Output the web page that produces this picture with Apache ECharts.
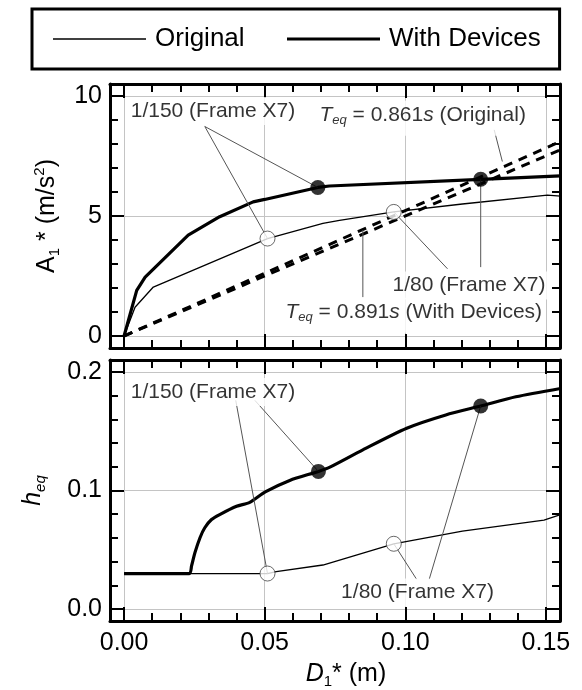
<!DOCTYPE html>
<html><head><meta charset="utf-8">
<script src="https://cdn.jsdelivr.net/npm/echarts@6/dist/echarts.min.js"></script>
<style>html,body{margin:0;padding:0;background:#fff}#c{width:582px;height:690px}</style>
</head><body><div id="c"></div>
<script>
// ---------------- data ----------------
const xMajorTicks = [0, 0.05, 0.10, 0.15];
const xMinorTicks = [0,0.01,0.02,0.03,0.04,0.05,0.06,0.07,0.08,0.09,0.10,0.11,0.12,0.13,0.14,0.15];
const aMajorTicks = [0, 5, 10];
const aMinorTicks = [0,1,2,3,4,5,6,7,8,9,10];
const hMajorTicks = [0, 0.1, 0.2];
const hMinorTicks = [0,0.02,0.04,0.06,0.08,0.10,0.12,0.14,0.16,0.18,0.20];

// A1* vs D1* (top)
const accelOriginal = [[0,0],[0.0039,1.2],[0.0104,2.04],[0.051,4.06],[0.0707,4.69],[0.0766,4.82],[0.0959,5.17],[0.1203,5.50],[0.1505,5.87],[0.1552,5.83]];
const accelDevices = [[0,0],[0.0045,1.9],[0.0075,2.45],[0.0228,4.2],[0.034,4.97],[0.0459,5.59],[0.050,5.69],[0.0689,6.19],[0.073,6.25],[0.1268,6.53],[0.1552,6.67]];
const teqOriginal = [[0,0],[0.155,8.1]];
const teqDevices = [[0,0],[0.155,7.75]];
const accelFilled = [[0.0689,6.19],[0.1268,6.53]];
const accelOpen = [[0.051,4.06],[0.0959,5.17]];

// h_eq vs D1* (bottom)
const hOriginal = [[0,0.030],[0.051,0.030],[0.0541,0.0316],[0.0707,0.0372],[0.0959,0.0551],[0.1203,0.0657],[0.1493,0.075],[0.1552,0.0797]];
const hDevices = [[0,0.030],[0.0232,0.030],[0.0240,0.0364],[0.0252,0.0476],[0.0270,0.0602],[0.0287,0.0686],[0.0311,0.0755],[0.034,0.0797],[0.040,0.0867],[0.0447,0.090],[0.0502,0.0988],[0.0589,0.1085],[0.0691,0.1161],[0.073,0.1195],[0.0849,0.1343],[0.1005,0.1525],[0.1144,0.1637],[0.1268,0.1712],[0.1393,0.179],[0.1552,0.186]];
const hFilled = [[0.0691,0.1161],[0.1268,0.1712]];
const hOpen = [[0.051,0.030],[0.0959,0.0551]];

// leader lines [from, to]
const accelLeaders = [
  [[0.0287,8.73],[0.0689,6.19]],
  [[0.0287,8.73],[0.051,4.06]],
  [[0.1316,8.59],[0.1345,7.27]],
  [[0.1268,6.53],[0.1268,2.87]],
  [[0.0959,5.17],[0.115,2.80]],
  [[0.0849,4.41],[0.0849,1.62]]
];
const hLeaders = [
  [[0.0397,0.176],[0.051,0.030]],
  [[0.0465,0.176],[0.0691,0.1161]],
  [[0.104,0.0252],[0.0959,0.0551]],
  [[0.1085,0.0252],[0.1268,0.1712]]
];

// annotation labels
const accelNotes = [
  {at:[0.0013,9.37], align:'left', text:'{n|1/150 (Frame X7)}', teq:false},
  {at:[0.0684,9.07], align:'left', text:'{it|T}{sub|eq}{n| = 0.861}{it|s}{n| (Original)}', teq:true},
  {at:[0.1509,2.10], align:'right', text:'{n|1/80 (Frame X7)}', teq:false},
  {at:[0.1497,0.86], align:'right', text:'{it|T}{sub|eq}{n| = 0.891}{it|s}{n| (With Devices)}', teq:true}
];
const hNotes = [
  {at:[0.0013,0.183], align:'left', text:'{n|1/150 (Frame X7)}', teq:false},
  {at:[0.1326,0.014], align:'right', text:'{n|1/80 (Frame X7)}', teq:false}
];

// ---------------- chart ----------------
const F = '"Liberation Sans", Arial, Helvetica, sans-serif';
const GRID_LINE = '#c4c4c4';
const noteRich = {
  n:{fontFamily:F, fontSize:21, color:'#000', lineHeight:24},
  it:{fontFamily:F, fontSize:21, fontStyle:'italic', color:'#000', lineHeight:24},
  sub:{fontFamily:F, fontSize:13, fontStyle:'italic', color:'#000', lineHeight:4, verticalAlign:'bottom'}
};
const nameRich = {
  n:{fontFamily:F, fontSize:25, color:'#000', lineHeight:30},
  it:{fontFamily:F, fontSize:25, fontStyle:'italic', color:'#000', lineHeight:30},
  sub:{fontFamily:F, fontSize:15, color:'#000', lineHeight:12, verticalAlign:'bottom'},
  subi:{fontFamily:F, fontSize:15, fontStyle:'italic', color:'#000', lineHeight:10, verticalAlign:'bottom'},
  sup:{fontFamily:F, fontSize:15, color:'#000', lineHeight:12, verticalAlign:'top'}
};

function axis(kind, grid, pos, ticks, len, opts) {
  const isX = kind === 'x';
  const o = {
    type:'value', gridIndex:grid, position:pos,
    min: isX ? -0.005 : (grid === 0 ? -0.5 : -0.01),
    max: isX ? 0.155 : (grid === 0 ? 10.5 : 0.21),
    splitNumber: isX ? 3 : 2,
    axisLine:{show:opts.line, onZero:false, lineStyle:{color:'#000', width:3}},
    axisTick:{show:true, inside:true, length:len, customValues:ticks, lineStyle:{color:'#000', width:2}},
    axisLabel:{show:false},
    splitLine:{show:!!opts.split, lineStyle:{color:GRID_LINE, width:1}},
    minorTick:{show:false}, minorSplitLine:{show:false}
  };
  if (opts.labels) {
    o.axisLabel = {show:true, customValues:opts.labels, formatter:opts.fmt,
      fontFamily:F, fontSize:25, color:'#000', margin: isX ? 10 : 8};
  }
  if (opts.name) {
    o.name = opts.name; o.nameLocation = 'middle'; o.nameGap = opts.nameGap;
    o.nameTextStyle = {rich:nameRich, padding:opts.namePad || 0};
    if (!isX) o.nameRotate = 90;
  }
  return o;
}

const xAxes = [], yAxes = [];
[0,1].forEach(g => {
  xAxes.push(axis('x', g, 'bottom', xMajorTicks, 14, {line:true, split:true,
    labels: g===1 ? xMajorTicks : null, fmt: v => v.toFixed(2),
    name: g===1 ? '{it|D}{sub|1}{n|* (m)}' : null, nameGap:38, namePad:[0,0,0,22]}));
  xAxes.push(axis('x', g, 'bottom', xMinorTicks, 8, {line:false}));
  xAxes.push(axis('x', g, 'top', xMajorTicks, 14, {line:true}));
  xAxes.push(axis('x', g, 'top', xMinorTicks, 8, {line:false}));
  const maj = g===0 ? aMajorTicks : hMajorTicks;
  const min = g===0 ? aMinorTicks : hMinorTicks;
  yAxes.push(axis('y', g, 'left', maj, 14, {line:true, split:true, labels:maj,
    fmt: g===0 ? (v => String(Math.round(v))) : (v => v.toFixed(1)),
    name: g===0 ? '{n|A}{sub|1}{n| * (m/s}{sup|2}{n|)}' : '{it|h}{subi|eq}',
    nameGap: g===0 ? 48 : 62}));
  yAxes.push(axis('y', g, 'left', min, 8, {line:false}));
  yAxes.push(axis('y', g, 'right', maj, 14, {line:true}));
  yAxes.push(axis('y', g, 'right', min, 8, {line:false}));
});

const series = [];
function curve(name, data, g, width, dashed, smooth) {
  series.push({type:'line', name, data, xAxisIndex:g*4, yAxisIndex:g*4,
    symbol:'none', showSymbol:false, clip:true, z:3, silent:true,
    smooth: smooth || false,
    itemStyle:{color:'#000'},
    lineStyle:{color:'#000', width, type: dashed ? [9,7] : 'solid'}});
}
curve('Teq Original', teqOriginal, 0, 3, true);
curve('Teq Devices', teqDevices, 0, 3, true);
curve('Original', accelOriginal, 0, 1.3, false);
curve('With Devices', accelDevices, 0, 3.2, false);
curve('Original', hOriginal, 1, 1.3, false);
curve('With Devices', hDevices, 1, 3.2, false, 0.25);

function leaders(list, g) {
  list.forEach(seg => series.push({type:'line', data:seg, xAxisIndex:g*4, yAxisIndex:g*4,
    symbol:'none', z:4, silent:true, lineStyle:{color:'#555', width:1}}));
}
leaders(accelLeaders, 0); leaders(hLeaders, 1);

function markers(data, g, filled) {
  series.push({type:'scatter', data, xAxisIndex:g*4, yAxisIndex:g*4, symbol:'circle',
    symbolSize:15, z:6, silent:true,
    itemStyle: filled ? {color:'#000'} : {color:'#fff', borderColor:'#444', borderWidth:1}});
}
markers(accelFilled, 0, true); markers(accelOpen, 0, false);
markers(hFilled, 1, true); markers(hOpen, 1, false);

function notes(list, g) {
  list.forEach(nt => series.push({type:'scatter', data:[nt.at], xAxisIndex:g*4, yAxisIndex:g*4,
    symbolSize:0, z:8, silent:true,
    label:{show:true, position:'inside', align:nt.align, verticalAlign:'middle',
      formatter:nt.text, rich:noteRich, backgroundColor:'#fff',
      padding: nt.teq ? [2,3,9,3] : [2,3,2,3]}}));
}
notes(accelNotes, 0); notes(hNotes, 1);

const legendText = {fontFamily:F, fontSize:26, color:'#000', padding:[0,0,0,4]};
const chart = echarts.init(document.getElementById('c'), null, {renderer:'canvas'});
chart.setOption({
  animation:false,
  backgroundColor:'#fff',
  legend:[
    {data:[{name:'Original', icon:'rect'}], left:32, top:9, orient:'horizontal',
      itemWidth:93, itemHeight:1.5, selectedMode:false,
      itemStyle:{color:'#000', borderWidth:0},
      padding:[17,315,17,21], borderColor:'#000', borderWidth:3,
      textStyle:legendText},
    {data:[{name:'With Devices', icon:'rect'}], left:287, top:9, orient:'horizontal',
      itemWidth:93, itemHeight:3, selectedMode:false,
      itemStyle:{color:'#000', borderWidth:0},
      padding:[17,0,17,0], textStyle:legendText}
  ],
  grid:[
    {left:110, right:22, top:84, height:264, containLabel:false},
    {left:110, right:22, top:360, height:262, containLabel:false}
  ],
  xAxis:xAxes, yAxis:yAxes, series
});
</script></body></html>
